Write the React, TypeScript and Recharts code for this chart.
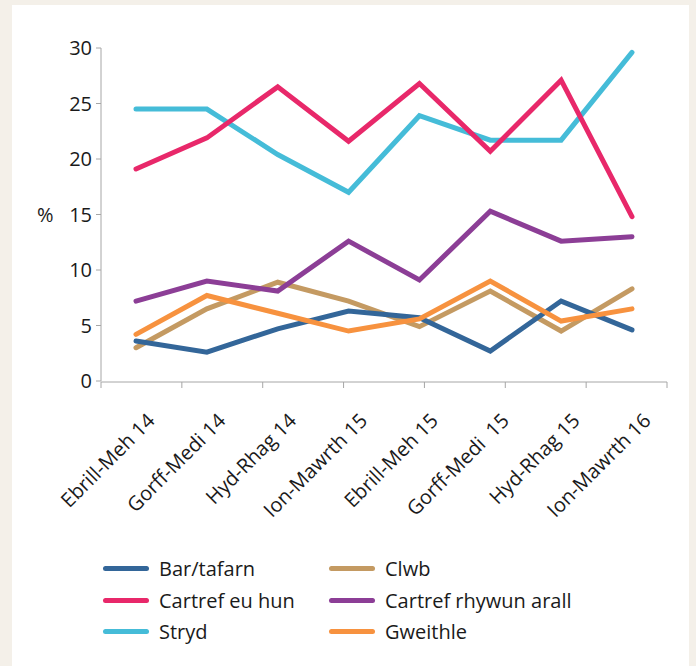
import React from "react";
import { LineChart, Line, XAxis, YAxis } from "recharts";

// Categories (quarters, Welsh)
const periods = [
  "Ebrill-Meh 14",
  "Gorff-Medi 14",
  "Hyd-Rhag 14",
  "Ion-Mawrth 15",
  "Ebrill-Meh 15",
  "Gorff-Medi  15",
  "Hyd-Rhag 15",
  "Ion-Mawrth 16",
];

// Series values (%)
const barTafarn = [3.6, 2.6, 4.7, 6.3, 5.7, 2.7, 7.2, 4.6];
const clwb = [3.0, 6.5, 8.9, 7.2, 4.9, 8.1, 4.5, 8.3];
const cartrefEuHun = [19.1, 21.9, 26.5, 21.6, 26.8, 20.7, 27.1, 14.8];
const cartrefRhywun = [7.2, 9.0, 8.1, 12.6, 9.1, 15.3, 12.6, 13.0];
const stryd = [24.5, 24.5, 20.4, 17.0, 23.9, 21.7, 21.7, 29.6];
const gweithle = [4.2, 7.7, 6.1, 4.5, 5.6, 9.0, 5.4, 6.5];

const yTicks = [0, 5, 10, 15, 20, 25, 30];
const edgeTicks = [0, 1, 2, 3, 4, 5, 6, 7, 8];

const series = [
  { key: "bar", name: "Bar/tafarn", values: barTafarn, color: "#336699" },
  { key: "clwb", name: "Clwb", values: clwb, color: "#c49a62" },
  { key: "euhun", name: "Cartref eu hun", values: cartrefEuHun, color: "#e8286a" },
  { key: "rhywun", name: "Cartref rhywun arall", values: cartrefRhywun, color: "#8c3e96" },
  { key: "stryd", name: "Stryd", values: stryd, color: "#45bcd8" },
  { key: "gweithle", name: "Gweithle", values: gweithle, color: "#f7923f" },
];

// draw order (back to front)
const drawOrder = ["clwb", "bar", "gweithle", "rhywun", "stryd", "euhun"];

const data = periods.map((p, i) => {
  const row: { [k: string]: any } = { period: p };
  series.forEach((s) => {
    row[s.key] = s.values[i];
  });
  return row;
});

const FONT = "'Open Sans', 'Noto Sans', sans-serif";
const TEXT = "#1a1a1a";
const AXIS = "#a6a6a6";

function RotTick(props: any) {
  const { x, y, payload } = props;
  const ax = x + 20;
  const ay = y + 33;
  return (
    <text
      x={ax}
      y={ay}
      transform={`rotate(-45, ${ax}, ${ay})`}
      textAnchor="end"
      fontSize={20}
      fontFamily={FONT}
      fill={TEXT}
      style={{ whiteSpace: "pre" }}
    >
      {payload.value}
    </text>
  );
}

function LegendBox() {
  return (
    <div
      style={{
        position: "absolute",
        left: 103,
        top: 553,
        display: "grid",
        gridTemplateColumns: "226px 280px",
        fontFamily: FONT,
        fontSize: 20,
        color: TEXT,
      }}
    >
      {series.map((s) => (
        <div key={s.key} style={{ display: "flex", alignItems: "center", height: 31.5 }}>
          <div
            style={{
              width: 46,
              height: 5,
              borderRadius: 3,
              background: s.color,
              marginRight: 10,
            }}
          />
          <span>{s.name}</span>
        </div>
      ))}
    </div>
  );
}

export default function App() {
  const ordered = drawOrder.map((k) => series.find((s) => s.key === k)!);
  return (
    <div
      style={{
        position: "absolute",
        left: 0,
        top: 0,
        width: 696,
        height: 666,
        background: "#f4f0e9",
        overflow: "hidden",
      }}
    >
      <div
        style={{
          position: "absolute",
          left: 12,
          top: 5,
          width: 677,
          height: 661,
          background: "#ffffff",
        }}
      />
      <div style={{ position: "absolute", left: 0, top: 0 }}>
        <LineChart
          width={696}
          height={666}
          data={data}
          margin={{ top: 48, right: 29, left: 37, bottom: 283 }}
        >
          <XAxis
            xAxisId="edge"
            type="number"
            domain={[0, 8]}
            ticks={edgeTicks}
            allowDataOverflow
            tickFormatter={() => ""}
            height={1}
            stroke={AXIS}
            tickSize={6}
          />
          <XAxis
            xAxisId="cat"
            dataKey="period"
            padding={{ left: 35, right: 35 }}
            axisLine={false}
            tickLine={false}
            interval={0}
            height={1}
            tick={<RotTick />}
          />
          <YAxis
            width={64}
            domain={[0, 30]}
            ticks={yTicks}
            stroke={AXIS}
            tickSize={5}
            tickMargin={4}
            tick={{ fill: TEXT, fontSize: 20, fontFamily: FONT }}
            label={{
              value: "%",
              position: "insideLeft",
              offset: 0,
              fill: TEXT,
              fontSize: 20,
              fontFamily: FONT,
            }}
          />
          {ordered.map((s) => (
            <Line
              key={s.key}
              xAxisId="cat"
              type="linear"
              dataKey={s.key}
              name={s.name}
              stroke={s.color}
              strokeWidth={5}
              strokeLinecap="round"
              dot={false}
              activeDot={false}
              isAnimationActive={false}
            />
          ))}
        </LineChart>
      </div>
      <LegendBox />
    </div>
  );
}
